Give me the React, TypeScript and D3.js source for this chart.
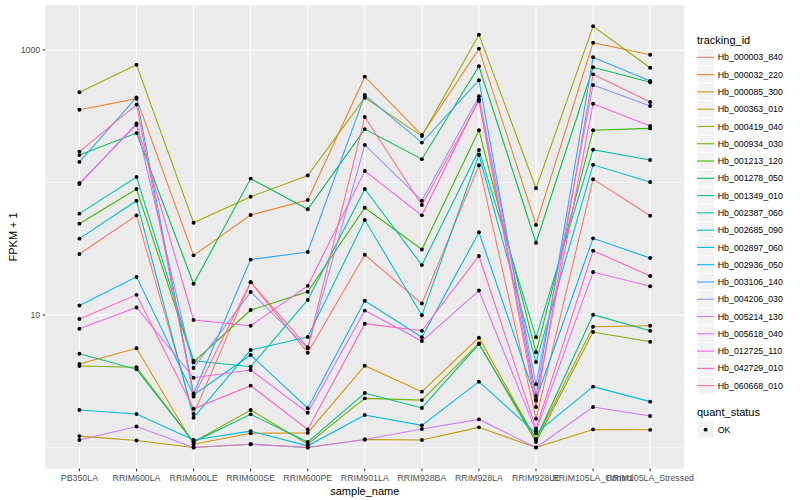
import React from "react";
import * as d3 from "d3";

const samples = [
  "PB350LA", "RRIM600LA", "RRIM600LE", "RRIM600SE", "RRIM600PE", "RRIM901LA",
  "RRIM928BA", "RRIM928LA", "RRIM928LE", "RRIM105LA_Control", "RRIM105LA_Stressed",
];

const trackingIds = [
  "Hb_000003_840", "Hb_000032_220", "Hb_000085_300", "Hb_000363_010", "Hb_000419_040",
  "Hb_000934_030", "Hb_001213_120", "Hb_001278_050", "Hb_001349_010", "Hb_002387_060",
  "Hb_002685_090", "Hb_002897_060", "Hb_002936_050", "Hb_003106_140", "Hb_004206_030",
  "Hb_005214_130", "Hb_005618_040", "Hb_012725_110", "Hb_042729_010", "Hb_060668_010",
];

const colors = [
  "#F8766D", "#EA8331", "#D89000", "#C09B00", "#A3A500", "#7CAE00", "#39B600", "#00BB4E",
  "#00BF7D", "#00C1A3", "#00BFC4", "#00BAE0", "#00B0F6", "#35A2FF", "#9590FF", "#C77CFF",
  "#E76BF3", "#FA62DB", "#FF62BC", "#FF6C90",
];

// FPKM + 1 per sample
const hb_000003_840 = [28.9, 56.5, 1.79, 17.7, 5.19, 28.5, 12.2, 135, 1.65, 106, 56.1];
const hb_000032_220 = [354, 429, 28.2, 56.9, 73.8, 629, 228, 1023, 47.8, 1135, 921];
const hb_000085_300 = [4.27, 5.61, 1.06, 1.28, 1.29, 4.14, 2.64, 6.74, 1.15, 8.16, 8.3];
const hb_000363_010 = [1.22, 1.13, 1.0, 1.06, 1.0, 1.15, 1.14, 1.42, 1.0, 1.37, 1.36];
const hb_000419_040 = [480, 774, 49.7, 78.1, 113, 436, 224, 1305, 90.4, 1510, 735];
const hb_000934_030 = [4.12, 4.03, 1.1, 1.92, 1.06, 2.35, 2.28, 6.11, 1.1, 7.44, 6.29];
const hb_001213_120 = [48.9, 89.3, 4.4, 10.9, 15.0, 64.5, 31.2, 248, 5.23, 248, 256];
const hb_001278_050 = [161, 236, 17.2, 107, 62.8, 253, 150, 753, 35.1, 740, 571];
const hb_001349_010 = [5.1, 3.89, 1.1, 1.78, 1.1, 2.58, 1.99, 6.04, 1.16, 10.05, 7.61];
const hb_002387_060 = [58.2, 110, 4.52, 4.07, 13.0, 89.3, 23.8, 176, 6.79, 177, 148];
const hb_002685_090 = [37.7, 72.9, 1.68, 5.44, 6.82, 52.1, 9.95, 162, 4.42, 136, 101];
const hb_002897_060 = [1.92, 1.79, 1.14, 1.33, 1.03, 1.76, 1.47, 3.14, 1.28, 2.88, 2.22];
const hb_002936_050 = [11.8, 19.4, 2.49, 4.99, 1.98, 12.8, 6.79, 42.1, 2.31, 37.9, 26.9];
const hb_003106_140 = [143, 438, 2.56, 26.2, 29.9, 457, 200, 591, 2.45, 881, 584];
const hb_004206_030 = [99.1, 272, 3.98, 14.9, 5.61, 192, 72.9, 447, 3.0, 544, 378];
const hb_005214_130 = [1.14, 1.44, 1.0, 1.06, 1.0, 1.15, 1.38, 1.63, 1.0, 2.02, 1.73];
const hb_005618_040 = [7.88, 11.4, 3.36, 3.85, 1.83, 10.8, 6.36, 15.3, 1.33, 21.1, 16.5];
const hb_012725_110 = [97.4, 279, 9.17, 8.3, 16.6, 122, 56.5, 425, 2.26, 393, 267];
const hb_042729_010 = [9.33, 14.2, 1.96, 2.93, 1.37, 8.6, 7.61, 27.9, 1.39, 30.6, 19.7];
const hb_060668_010 = [171, 387, 2.42, 17.7, 5.71, 312, 67.6, 412, 2.02, 655, 405];

const seriesValues = [
  hb_000003_840, hb_000032_220, hb_000085_300, hb_000363_010, hb_000419_040,
  hb_000934_030, hb_001213_120, hb_001278_050, hb_001349_010, hb_002387_060,
  hb_002685_090, hb_002897_060, hb_002936_050, hb_003106_140, hb_004206_030,
  hb_005214_130, hb_005618_040, hb_012725_110, hb_042729_010, hb_060668_010,
];

const yMajor = [10, 1000];
const yMinor = [1, 100];
const yTickLabels = ["10", "1000"];

const FONT = "'Liberation Sans', Arial, Helvetica, sans-serif";

export default function App() {
  const W = 800, H = 500;
  const panel = { left: 45.2, right: 684.4, top: 5.2, bottom: 468.6 };

  const x = d3.scalePoint<string>().domain(samples).range([panel.left, panel.right]).padding(0.6);

  const all = seriesValues.flat();
  const lmin = Math.log10(d3.min(all) as number);
  const lmax = Math.log10(d3.max(all) as number);
  const pad = (lmax - lmin) * 0.05;
  const y = d3.scaleLog().domain([Math.pow(10, lmin - pad), Math.pow(10, lmax + pad)]).range([panel.bottom, panel.top]);

  const line = d3.line<number>().x((_, i) => x(samples[i]) as number).y((d) => y(d));

  const keySize = 17.28;
  const legX = 697;
  const legTop = 48.7;

  return (
    <svg width={W} height={H} style={{ position: "absolute", left: 0, top: 0, background: "#fff" }} fontFamily={FONT}>
      <rect x={0} y={0} width={W} height={H} fill="#fff" />
      <rect x={panel.left} y={panel.top} width={panel.right - panel.left} height={panel.bottom - panel.top} fill="#EBEBEB" />
      {yMinor.map((v) => (
        <line key={"ym" + v} x1={panel.left} x2={panel.right} y1={y(v)} y2={y(v)} stroke="#fff" strokeWidth={0.53} />
      ))}
      {yMajor.map((v) => (
        <line key={"yM" + v} x1={panel.left} x2={panel.right} y1={y(v)} y2={y(v)} stroke="#fff" strokeWidth={1.07} />
      ))}
      {samples.map((s) => (
        <line key={"xg" + s} x1={x(s)} x2={x(s)} y1={panel.top} y2={panel.bottom} stroke="#fff" strokeWidth={1.07} />
      ))}
      {seriesValues.map((vals, si) => (
        <path key={"l" + si} d={line(vals) as string} fill="none" stroke={colors[si]} strokeWidth={1.07} />
      ))}
      {seriesValues.map((vals, si) =>
        vals.map((v, i) => (
          <circle key={"p" + si + "_" + i} cx={x(samples[i])} cy={y(v)} r={1.95} fill="#000" />
        ))
      )}
      {/* y axis */}
      {yMajor.map((v, i) => (
        <g key={"yt" + v}>
          <line x1={panel.left - 2.75} x2={panel.left} y1={y(v)} y2={y(v)} stroke="#333" strokeWidth={1.07} />
          <text x={panel.left - 4.95} y={y(v)} dy="0.35em" textAnchor="end" fontSize={8.8} fill="#4D4D4D">
            {yTickLabels[i]}
          </text>
        </g>
      ))}
      {/* x axis */}
      {samples.map((s) => (
        <g key={"xt" + s}>
          <line x1={x(s)} x2={x(s)} y1={panel.bottom} y2={panel.bottom + 2.75} stroke="#333" strokeWidth={1.07} />
          <text x={x(s)} y={panel.bottom + 4.95} dy="0.8em" textAnchor="middle" fontSize={8.8} fill="#4D4D4D">
            {s}
          </text>
        </g>
      ))}
      <text x={(panel.left + panel.right) / 2} y={495} textAnchor="middle" fontSize={11} fill="#000">
        sample_name
      </text>
      <text
        transform={`translate(${13.5},${(panel.top + panel.bottom) / 2}) rotate(-90)`}
        textAnchor="middle"
        dy="0.35em"
        fontSize={11}
        fill="#000"
      >
        FPKM + 1
      </text>
      {/* legend */}
      <text x={legX} y={44} fontSize={11} fill="#000">tracking_id</text>
      {trackingIds.map((id, i) => {
        const ty = legTop + i * keySize;
        return (
          <g key={"lg" + id}>
            <rect x={legX} y={ty} width={keySize} height={keySize} fill="#F2F2F2" stroke="#fff" strokeWidth={1} />
            <line x1={legX} x2={legX + keySize} y1={ty + keySize / 2} y2={ty + keySize / 2} stroke={colors[i]} strokeWidth={1.07} />
            <text x={legX + keySize + 3.5} y={ty + keySize / 2} dy="0.35em" fontSize={8.8} fill="#000">
              {id}
            </text>
          </g>
        );
      })}
      <text x={legX} y={415.5} fontSize={11} fill="#000">quant_status</text>
      <rect x={legX} y={421} width={keySize} height={keySize} fill="#F2F2F2" stroke="#fff" strokeWidth={1} />
      <circle cx={legX + keySize / 2} cy={421 + keySize / 2} r={1.95} fill="#000" />
      <text x={legX + keySize + 3.5} y={421 + keySize / 2} dy="0.35em" fontSize={8.8} fill="#000">OK</text>
    </svg>
  );
}
